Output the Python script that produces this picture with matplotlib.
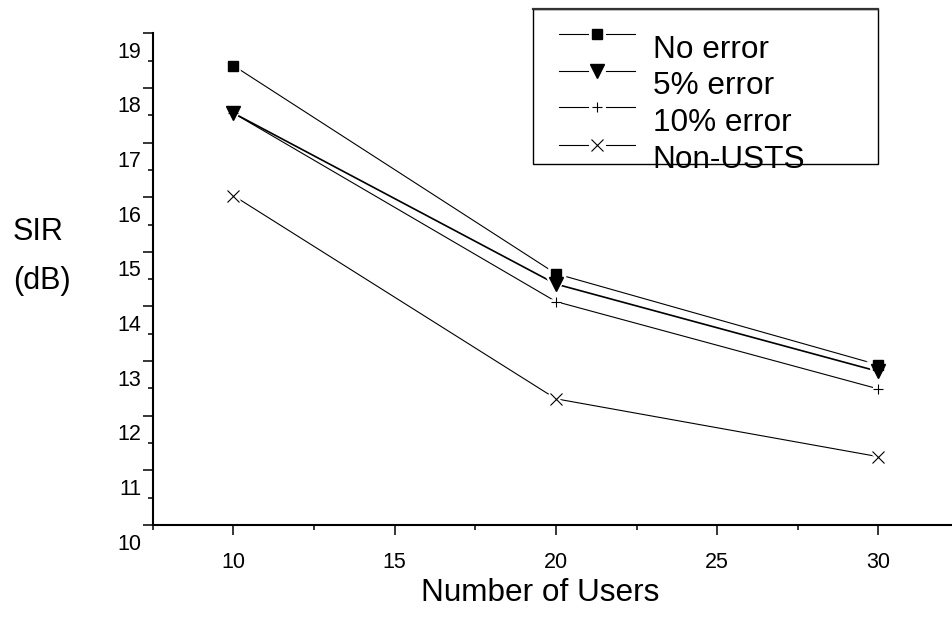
import matplotlib
matplotlib.use('Agg')
import matplotlib.pyplot as plt
import matplotlib.transforms as mtransforms
from matplotlib.lines import Line2D
from matplotlib.patches import Rectangle
from matplotlib.ticker import MultipleLocator

# --- Data ---
USERS = [10, 20, 30]
NO_ERROR = [18.41, 14.60, 12.93]
ERROR_5 = [17.54, 14.41, 12.81]
ERROR_10 = [17.54, 14.09, 12.49]
NON_USTS = [16.03, 12.31, 11.25]
LABELS = ['No error', '5% error', '10% error', 'Non-USTS']

# --- Figure size in pixels ---
W, H = 952, 619

plt.rcParams['font.family'] = ['Liberation Sans', 'DejaVu Sans']

fig = plt.figure(figsize=(W / 100, H / 100), dpi=100)
# pixel coordinates (top-down) -> figure coordinates
px = mtransforms.Affine2D().scale(1 / W, -1 / H).translate(0, 1) + fig.transFigure

ax = fig.add_axes([152.7 / W, 1 - 525 / H, 1 - 152.7 / W, (525 - 33.3) / H])

# (values, marker, marker size, marker edge width, line width)
series = [
    (NO_ERROR, 's', 7.2, 1.0, 0.8),
    (ERROR_5, 'v', 10.5, 1.0, 1.2),
    (ERROR_10, '+', 7.7, 0.8, 0.8),
    (NON_USTS, 'x', 9.0, 0.8, 0.8),
]

# lines first, then a white halo so lines stop short of the markers, then markers
for values, marker, size, mew, lw in series:
    ax.plot(USERS, values, color='black', lw=lw, zorder=2)
for values, marker, size, mew, lw in series:
    ax.plot(USERS, values, ls='none', marker=marker, ms=size, mfc='white',
            mec='white', mew=4, zorder=3)
for values, marker, size, mew, lw in series:
    ax.plot(USERS, values, ls='none', marker=marker, ms=size, mfc='black',
            mec='black', mew=mew, zorder=4)

# --- Axes styling ---
ax.set_xlim(7.5, 10 + (W - 231.7) / 32.33)
ax.set_ylim(10, 19)
ax.xaxis.set_major_locator(MultipleLocator(5))
ax.xaxis.set_minor_locator(MultipleLocator(2.5))
ax.yaxis.set_major_locator(MultipleLocator(1))
ax.yaxis.set_minor_locator(MultipleLocator(0.5))
ax.spines['top'].set_visible(False)
ax.spines['right'].set_visible(False)
ax.spines['left'].set_linewidth(1.5)
ax.spines['bottom'].set_linewidth(1.5)
ax.tick_params(which='major', direction='out', length=7.2, width=1.1, labelsize=15.5)
ax.tick_params(which='minor', direction='out', length=3.6, width=1.1)
ax.tick_params(axis='y', which='major', pad=1)
ax.tick_params(axis='x', which='major', pad=11.9)

# y tick labels sit a bit below their ticks in the original
shift = mtransforms.ScaledTranslation(0, -0.165, fig.dpi_scale_trans)
for lab in ax.get_yticklabels():
    lab.set_transform(lab.get_transform() + shift)

ax.set_xlabel('Number of Users', fontsize=22.7)
ax.xaxis.label.set_va('baseline')
ax.xaxis.set_label_coords(540.5 / W, 1 - 601 / H, transform=fig.transFigure)

fig.text(12.7, 240, 'SIR', transform=px, fontsize=22, va='baseline')
fig.text(12.7, 289, '(dB)', transform=px, fontsize=22, va='baseline')

# --- Hand-drawn legend box ---
fig.add_artist(Rectangle((533, 9), 345, 155, transform=px, fill=False,
                         ec='black', lw=1.0))
fig.add_artist(Line2D([533, 878], [9, 9], transform=px, color='#333333', lw=1.6))
entry_y = [34, 70.7, 107.3, 145]
for (values, marker, size, mew, lw), label, y in zip(series, LABELS, entry_y):
    fig.add_artist(Line2D([559, 588], [y, y], transform=px, color='black', lw=0.8))
    fig.add_artist(Line2D([606, 635], [y, y], transform=px, color='black', lw=0.8))
    fig.add_artist(Line2D([597], [y], transform=px, ls='none', marker=marker,
                          ms=size, mfc='black', mec='black', mew=mew))
    fig.text(652.7, y + 23.5, label, transform=px, fontsize=22.7, va='baseline')

fig.savefig('out.png', dpi=100)
